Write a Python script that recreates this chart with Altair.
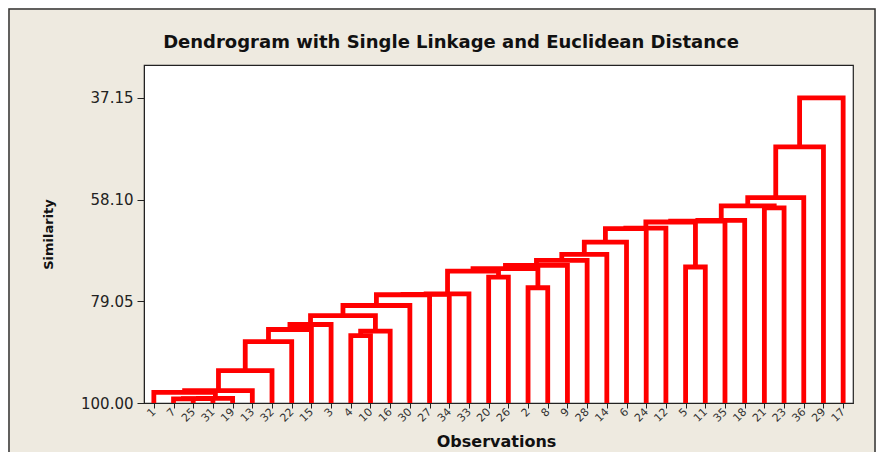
import altair as alt
import pandas as pd

# ---- data ----
LEAVES = [1, 7, 25, 31, 19, 13, 32, 22, 15, 3, 4, 10, 16, 30, 27, 34, 33, 20,
          26, 2, 8, 9, 28, 14, 6, 24, 12, 5, 11, 35, 18, 21, 23, 36, 29, 17]

MERGE_LEFT = ["7", "c1", "c2", "1", "c4", "c5", "c6", "c7", "c8",
              "4", "c10", "c9", "c12", "c13", "c14", "c15",
              "20", "c16", "2", "c18", "c20", "c21", "c22", "c23", "c24", "c25",
              "5", "c26", "c28", "c29", "21", "c30", "c32", "c33", "c34"]
MERGE_RIGHT = ["25", "31", "19", "c3", "13", "32", "22", "15", "3",
               "10", "16", "c11", "30", "27", "34", "33",
               "26", "c17", "8", "c19", "9", "28", "14", "6", "24", "12",
               "11", "c27", "35", "18", "23", "c31", "36", "29", "17"]
MERGE_SIM = [99.17, 99.11, 99.05, 97.81, 97.46, 93.33, 87.35, 84.87, 83.84,
             86.11, 85.22, 81.99, 79.92, 77.71, 77.65, 77.51,
             74.08, 72.84, 76.27, 72.35, 71.67, 70.64, 69.40, 66.86, 64.10, 63.97,
             72.00, 62.73, 62.53, 62.38, 59.84, 59.39, 57.70, 47.26, 37.15]

Y_TICKS = [37.15, 58.10, 79.05, 100.00]
TITLE = "Dendrogram with Single Linkage and Euclidean Distance"
X_TITLE = "Observations"
Y_TITLE = "Similarity"

# ---- build dendrogram paths in data coordinates ----
pos = {str(l): (i, 100.0) for i, l in enumerate(LEAVES)}
rows = []
for k, (a, b, s) in enumerate(zip(MERGE_LEFT, MERGE_RIGHT, MERGE_SIM), start=1):
    xa, ha = pos[a]
    xb, hb = pos[b]
    pts = [(xa, ha), (xa, s), (xb, s), (xb, hb)]
    for o, (px, py) in enumerate(pts):
        rows.append({"id": k, "o": o, "x": px, "y": py})
    pos[f"c{k}"] = ((xa + xb) / 2.0, s)
df = pd.DataFrame(rows)

label_arr = "[" + ",".join(f"'{l}'" for l in LEAVES) + "]"

W, H = 709, 338
FONT = "DejaVu Sans"

lines = alt.Chart(df).mark_line(
    color="#FF0000", strokeWidth=4.8, strokeJoin="miter", clip=True
).encode(
    x=alt.X("x:Q",
            scale=alt.Scale(domain=[-0.5, 35.5], nice=False, zero=False),
            axis=alt.Axis(values=list(range(len(LEAVES))),
                          labelExpr=f"{label_arr}[datum.value]",
                          labelAngle=-45, labelAlign="right", labelBaseline="middle",
                          labelFontSize=11, labelFont=FONT, labelColor="#333333",
                          labelPadding=2, tickSize=5, tickColor="#222222",
                          domainColor="#222222", grid=False,
                          title=X_TITLE, titleFont=FONT, titleFontSize=16,
                          titleFontWeight="bold", titleColor="#111111",
                          titleX=352, titleY=38, titleBaseline="middle",
                          titleAlign="center")),
    y=alt.Y("y:Q",
            scale=alt.Scale(domain=[30.4, 100], reverse=True, nice=False, zero=False),
            axis=alt.Axis(values=Y_TICKS, format=".2f",
                          labelFontSize=15, labelFont=FONT, labelColor="#222222",
                          labelPadding=4, tickSize=7, tickColor="#222222",
                          domainColor="#222222", grid=False,
                          title=Y_TITLE, titleFont=FONT, titleFontSize=13,
                          titleFontWeight="bold", titleColor="#111111",
                          titleX=-96, titleY=169, titleAngle=270,
                          titleBaseline="middle", titleAlign="center")),
    detail="id:N",
    order="o:Q",
)

frame = alt.Chart(pd.DataFrame({"f": [0]})).mark_rect(
    fillOpacity=0, stroke="#333333", strokeWidth=1.5
).encode(
    x=alt.value(-135), x2=alt.value(731),
    y=alt.value(-56), y2=alt.value(420),
)

title = alt.Chart(pd.DataFrame({"t": [TITLE]})).mark_text(
    font=FONT, fontSize=18, fontWeight="bold", color="#111111",
    align="center", baseline="middle"
).encode(
    text="t:N", x=alt.value(307), y=alt.value(-22)
)

chart = alt.layer(frame, lines, title).properties(
    width=W, height=H,
    autosize=alt.AutoSizeParams(type="none"),
    padding={"left": 136, "top": 57, "right": 23, "bottom": 49},
    background="#EEEAE0",
).configure_view(
    fill="white", stroke="#222222", strokeWidth=1.2
)

chart.save("out.html", embed_options={"renderer": "svg", "actions": False})
